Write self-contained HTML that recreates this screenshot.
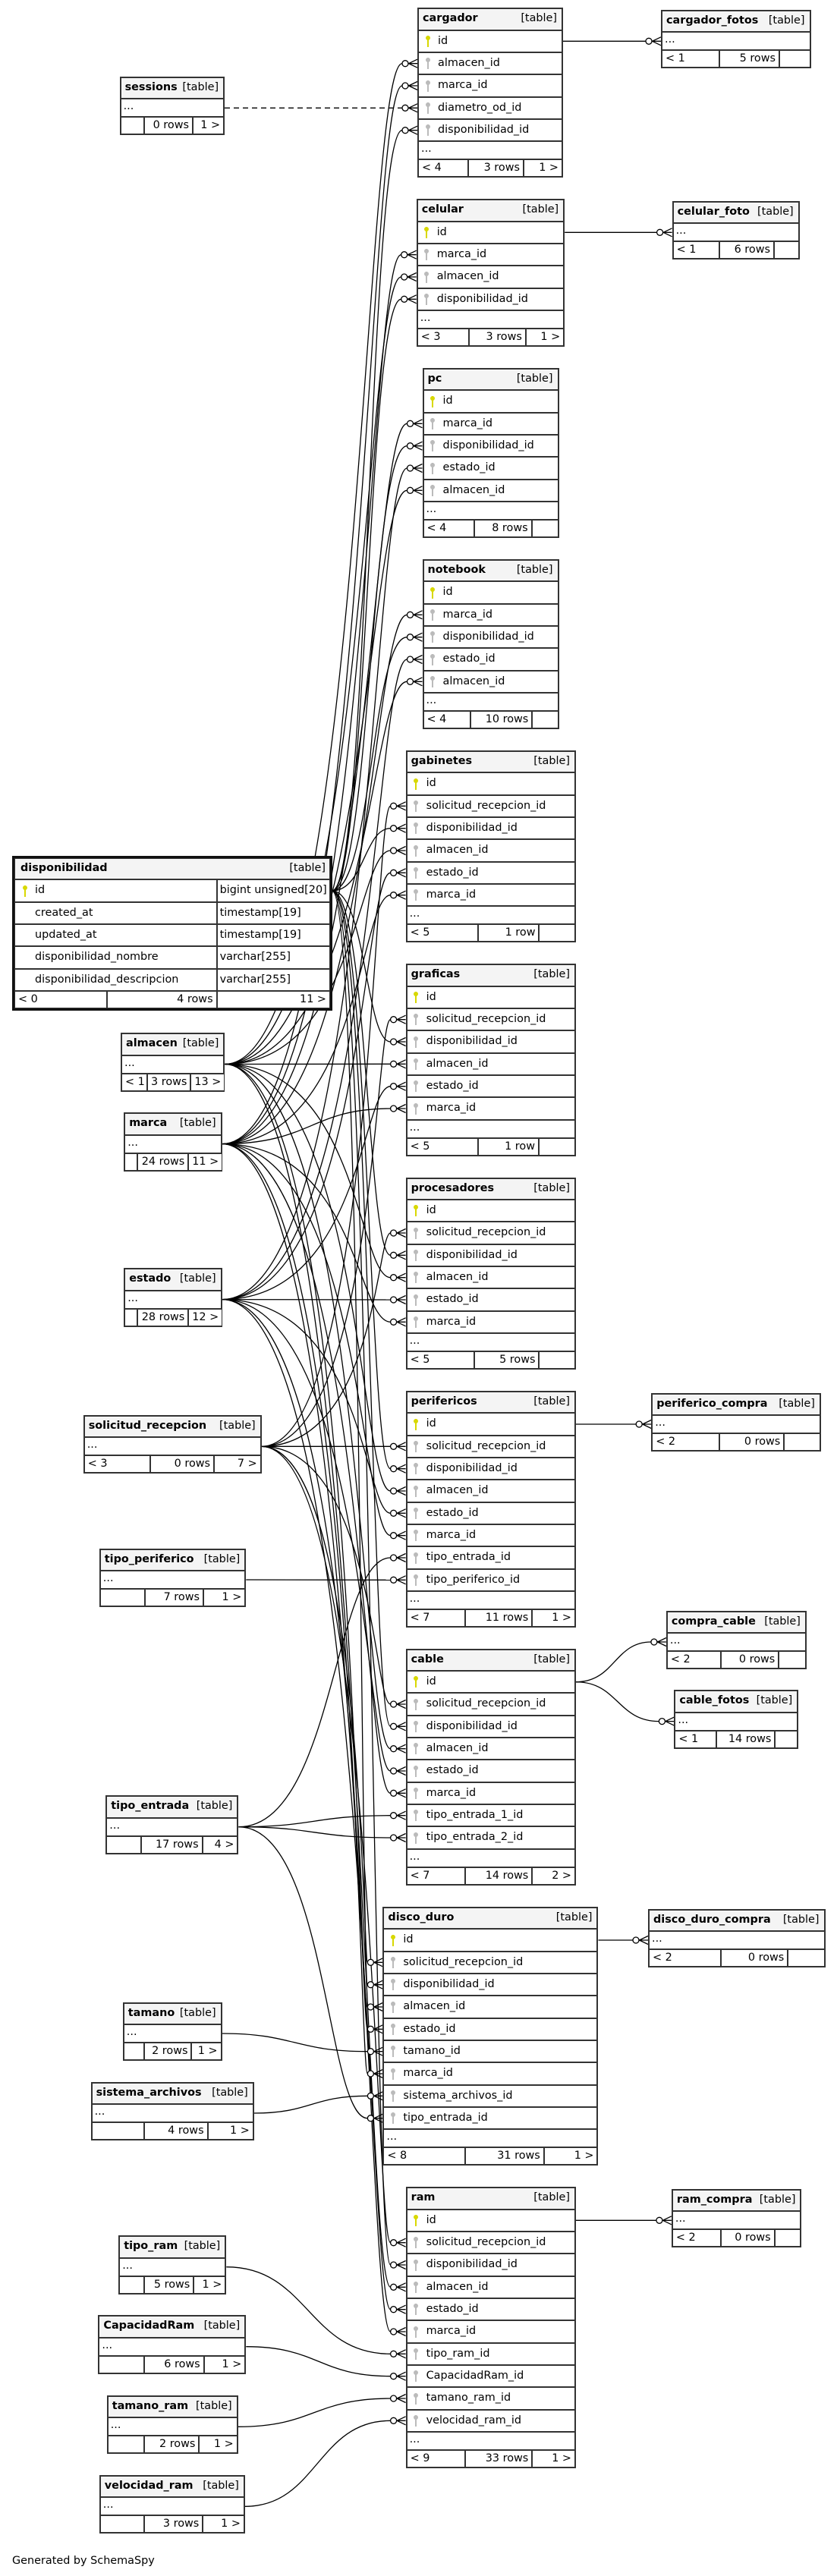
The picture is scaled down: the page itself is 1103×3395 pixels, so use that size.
<!DOCTYPE html>
<html><head><meta charset="utf-8">
<style>
body{margin:0;width:1103px;height:3395px;position:relative;background:#fff;overflow:hidden;font-family:"DejaVu Sans","Liberation Sans",sans-serif}
.t{position:absolute;box-sizing:border-box;border:1px solid #333;background:#fff;font-size:14.4px;color:#000;z-index:2;white-space:nowrap}
.t>div{box-sizing:border-box;border:1px solid #333;position:relative}
.t>.h{height:28.33px;background:#f4f4f4;display:flex;justify-content:space-between;align-items:center;padding:0 6px 2px 5px}
.h b{font-weight:bold}
.t>.r{height:29.33px;line-height:27px;padding-left:25px}
.t>.d{height:24px;line-height:19px;padding-left:3px}
.t>.f{height:23px;border:0;display:flex}
.f span{box-sizing:border-box;border:1px solid #333;height:23px;line-height:21px;padding:0 4px;flex:none;display:block}
.f span.e{flex:1}
.f .rt{text-align:right}
.k{position:absolute;left:10.7px;top:6.3px;width:2px;height:15px;background:#bbb;display:block}
.k::before{content:"";position:absolute;left:-2px;top:0;width:6px;height:6px;border-radius:50%;background:inherit}
.k.y{background:#d8d800}
.t>.r2{height:29.33px;border:0;display:flex}
.r2 span{box-sizing:border-box;border:1px solid #333;height:29.33px;line-height:27px;display:block;position:relative;flex:none}
.r2 .c1{width:266.6px;padding-left:26px}
.r2 .c2{flex:1;padding-left:3px}
.r2 .k{left:12px}
svg.e{position:absolute;left:0;top:0;z-index:1}
.gen{position:absolute;left:16px;top:3365px;font-size:14.4px;line-height:20px;color:#000}
</style></head><body>

<svg class="e" width="1103" height="3395" viewBox="0 0 1103 3395">
<defs>
<g id="m" fill="#fff" stroke="#000" stroke-width="1.3"><circle cx="-16" cy="0" r="4"/><path d="M-11.5,0L0,-5.5M-11.5,0L0,0M-11.5,0L0,5.5" fill="none"/></g>
</defs>
<g fill="none" stroke="#000" stroke-width="1.3">
<path d="M437.5,1174C486,1174 486,171.7 530,171.7"/>
<path d="M437.5,1174C484,1174 484,394.3 528.7,394.3"/>
<path d="M437.5,1174C488,1174 488,587.7 536.5,587.7"/>
<path d="M437.5,1174C490,1174 490,839.7 536.5,839.7"/>
<path d="M437.5,1174C480,1174 480,1091.7 514.6,1091.7"/>
<path d="M437.5,1174C482,1174 482,1373 514.6,1373"/>
<path d="M437.5,1174C484,1174 484,1654.3 514.6,1654.3"/>
<path d="M437.5,1174C486,1174 486,1935.7 514.6,1935.7"/>
<path d="M437.5,1174C488,1174 488,2275.3 514.6,2275.3"/>
<path d="M437.5,1174C476,1174 476,2615.7 484.4,2615.7"/>
<path d="M437.5,1174C490,1174 490,2985 514.6,2985"/>

<path d="M296.4,1402.5C478,1402.5 478,83.7 530,83.7"/>
<path d="M296.4,1402.5C480,1402.5 480,365 528.7,365"/>
<path d="M296.4,1402.5C484,1402.5 484,646.3 536.5,646.3"/>
<path d="M296.4,1402.5C486,1402.5 486,898.3 536.5,898.3"/>
<path d="M296.4,1402.5C470,1402.5 470,1121 514.6,1121"/>
<path d="M296.4,1402.5L514.6,1402.3"/>
<path d="M296.4,1402.5C472,1402.5 472,1683.7 514.6,1683.7"/>
<path d="M296.4,1402.5C474,1402.5 474,1965 514.6,1965"/>
<path d="M296.4,1402.5C476,1402.5 476,2304.7 514.6,2304.7"/>
<path d="M296.4,1402.5C470,1402.5 470,2645 484.4,2645"/>
<path d="M296.4,1402.5C478,1402.5 478,3014.3 514.6,3014.3"/>

<path d="M292.6,1507.6C482,1507.6 482,113 530,113"/>
<path d="M292.6,1507.6C484,1507.6 484,335.7 528.7,335.7"/>
<path d="M292.6,1507.6C486,1507.6 486,558.3 536.5,558.3"/>
<path d="M292.6,1507.6C488,1507.6 488,810.3 536.5,810.3"/>
<path d="M292.6,1507.6C474,1507.6 474,1179.7 514.6,1179.7"/>
<path d="M292.6,1507.6C410,1507.6 410,1461 514.6,1461"/>
<path d="M292.6,1507.6C470,1507.6 470,1742.3 514.6,1742.3"/>
<path d="M292.6,1507.6C476,1507.6 476,2023.7 514.6,2023.7"/>
<path d="M292.6,1507.6C478,1507.6 478,2363.3 514.6,2363.3"/>
<path d="M292.6,1507.6C472,1507.6 472,2733 484.4,2733"/>
<path d="M292.6,1507.6C480,1507.6 480,3073 514.6,3073"/>

<path d="M292.6,1712.6C490,1712.6 490,617 536.5,617"/>
<path d="M292.6,1712.6C492,1712.6 492,869 536.5,869"/>
<path d="M292.6,1712.6C478,1712.6 478,1150.3 514.6,1150.3"/>
<path d="M292.6,1712.6C476,1712.6 476,1431.7 514.6,1431.7"/>
<path d="M292.6,1712.6L514.6,1713"/>
<path d="M292.6,1712.6C480,1712.6 480,1994.3 514.6,1994.3"/>
<path d="M292.6,1712.6C482,1712.6 482,2334 514.6,2334"/>
<path d="M292.6,1712.6C474,1712.6 474,2674.3 484.4,2674.3"/>
<path d="M292.6,1712.6C484,1712.6 484,3043.7 514.6,3043.7"/>

<path d="M344.7,1906.3C492,1906.3 492,1062.3 514.6,1062.3"/>
<path d="M344.7,1906.3C494,1906.3 494,1343.7 514.6,1343.7"/>
<path d="M344.7,1906.3C496,1906.3 496,1625 514.6,1625"/>
<path d="M344.7,1906.3L514.6,1906.3"/>
<path d="M344.7,1906.3C492,1906.3 492,2246 514.6,2246"/>
<path d="M344.7,1906.3C478,1906.3 478,2586.3 484.4,2586.3"/>
<path d="M344.7,1906.3C494,1906.3 494,2955.7 514.6,2955.7"/>

<path d="M324.3,2082L514.6,2082.3"/>
<path d="M314.4,2407.7C440,2407.7 440,2053 514.6,2053"/>
<path d="M314.4,2407.7C414,2407.7 414,2392.7 514.6,2392.7"/>
<path d="M314.4,2407.7C414,2407.7 414,2422 514.6,2422"/>
<path d="M314.4,2407.7C430,2407.7 430,2791.7 484.4,2791.7"/>
<path d="M292.6,2680C388,2680 388,2703.7 484.4,2703.7"/>
<path d="M334.8,2785C410,2785 410,2762.3 484.4,2762.3"/>
<path d="M298.3,2987.7C406,2987.7 406,3102.3 514.6,3102.3"/>
<path d="M324.3,3092.7C420,3092.7 420,3131.7 514.6,3131.7"/>
<path d="M313.7,3198.3C414,3198.3 414,3161 514.6,3161"/>
<path d="M322.9,3303.3C418,3303.3 418,3190.3 514.6,3190.3"/>
<path d="M296,142.3L530,142.3" stroke-dasharray="7,5"/>

<path d="M742,54.3L851,54.3"/>
<path d="M744.2,306.3L865.6,306.3"/>
<path d="M759,1877L838.2,1877"/>
<path d="M759,2216.7C810,2216.7 810,2164 857.9,2164"/>
<path d="M759,2216.7C814,2216.7 814,2268.6 868.4,2268.6"/>
<path d="M788.5,2557L834,2557"/>
<path d="M759,2926.3L864.9,2926.3"/>
</g>
<g>
<use href="#m" x="550" y="83.7"/><use href="#m" x="550" y="113"/><use href="#m" x="550" y="142.3"/><use href="#m" x="550" y="171.7"/>
<use href="#m" x="548.7" y="335.7"/><use href="#m" x="548.7" y="365"/><use href="#m" x="548.7" y="394.3"/>
<use href="#m" x="556.5" y="558.3"/><use href="#m" x="556.5" y="587.7"/><use href="#m" x="556.5" y="617"/><use href="#m" x="556.5" y="646.3"/>
<use href="#m" x="556.5" y="810.3"/><use href="#m" x="556.5" y="839.7"/><use href="#m" x="556.5" y="869"/><use href="#m" x="556.5" y="898.3"/>
<use href="#m" x="534.6" y="1062.3"/><use href="#m" x="534.6" y="1091.7"/><use href="#m" x="534.6" y="1121"/><use href="#m" x="534.6" y="1150.3"/><use href="#m" x="534.6" y="1179.7"/>
<use href="#m" x="534.6" y="1343.7"/><use href="#m" x="534.6" y="1373"/><use href="#m" x="534.6" y="1402.3"/><use href="#m" x="534.6" y="1431.7"/><use href="#m" x="534.6" y="1461"/>
<use href="#m" x="534.6" y="1625"/><use href="#m" x="534.6" y="1654.3"/><use href="#m" x="534.6" y="1683.7"/><use href="#m" x="534.6" y="1713"/><use href="#m" x="534.6" y="1742.3"/>
<use href="#m" x="534.6" y="1906.3"/><use href="#m" x="534.6" y="1935.7"/><use href="#m" x="534.6" y="1965"/><use href="#m" x="534.6" y="1994.3"/><use href="#m" x="534.6" y="2023.7"/><use href="#m" x="534.6" y="2053"/><use href="#m" x="534.6" y="2082.3"/>
<use href="#m" x="534.6" y="2246"/><use href="#m" x="534.6" y="2275.3"/><use href="#m" x="534.6" y="2304.7"/><use href="#m" x="534.6" y="2334"/><use href="#m" x="534.6" y="2363.3"/><use href="#m" x="534.6" y="2392.7"/><use href="#m" x="534.6" y="2422"/>
<use href="#m" x="504.4" y="2586.3"/><use href="#m" x="504.4" y="2615.7"/><use href="#m" x="504.4" y="2645"/><use href="#m" x="504.4" y="2674.3"/><use href="#m" x="504.4" y="2703.7"/><use href="#m" x="504.4" y="2733"/><use href="#m" x="504.4" y="2762.3"/><use href="#m" x="504.4" y="2791.7"/>
<use href="#m" x="534.6" y="2955.7"/><use href="#m" x="534.6" y="2985"/><use href="#m" x="534.6" y="3014.3"/><use href="#m" x="534.6" y="3043.7"/><use href="#m" x="534.6" y="3073"/><use href="#m" x="534.6" y="3102.3"/><use href="#m" x="534.6" y="3131.7"/><use href="#m" x="534.6" y="3161"/><use href="#m" x="534.6" y="3190.3"/>
<use href="#m" x="871" y="54.3"/><use href="#m" x="885.6" y="306.3"/><use href="#m" x="858.2" y="1877"/><use href="#m" x="877.9" y="2164"/><use href="#m" x="888.4" y="2268.6"/><use href="#m" x="854" y="2557"/><use href="#m" x="884.9" y="2926.3"/>
</g>
</svg>

<!-- cargador -->
<div class="t" style="left:550px;top:10.3px;width:192px">
<div class="h"><b>cargador</b><span>[table]</span></div>
<div class="r"><i class="k y"></i>id</div>
<div class="r"><i class="k"></i>almacen_id</div>
<div class="r"><i class="k"></i>marca_id</div>
<div class="r"><i class="k"></i>diametro_od_id</div>
<div class="r"><i class="k"></i>disponibilidad_id</div>
<div class="d">...</div>
<div class="f"><span style="width:65.7px">&lt; 4</span><span class="rt" style="width:73.3px">3 rows</span><span class="rt e">1 &gt;</span></div>
</div>

<div class="t" style="left:871px;top:12.7px;width:197.5px">
<div class="h"><b>cargador_fotos</b><span>[table]</span></div>
<div class="d">...</div>
<div class="f"><span style="width:76px">&lt; 1</span><span class="rt" style="width:79px">5 rows</span><span class="rt e"></span></div>
</div>

<div class="t" style="left:157.6px;top:101px;width:138.5px">
<div class="h"><b>sessions</b><span>[table]</span></div>
<div class="d">...</div>
<div class="f"><span style="width:31.4px"></span><span class="rt" style="width:64px">0 rows</span><span class="rt e">1 &gt;</span></div>
</div>

<div class="t" style="left:548.7px;top:262.3px;width:195.5px">
<div class="h"><b>celular</b><span>[table]</span></div>
<div class="r"><i class="k y"></i>id</div>
<div class="r"><i class="k"></i>marca_id</div>
<div class="r"><i class="k"></i>almacen_id</div>
<div class="r"><i class="k"></i>disponibilidad_id</div>
<div class="d">...</div>
<div class="f"><span style="width:67.9px">&lt; 3</span><span class="rt" style="width:75.3px">3 rows</span><span class="rt e">1 &gt;</span></div>
</div>

<div class="t" style="left:885.6px;top:265px;width:168.1px">
<div class="h"><b>celular_foto</b><span>[table]</span></div>
<div class="d">...</div>
<div class="f"><span style="width:61.4px">&lt; 1</span><span class="rt" style="width:72px">6 rows</span><span class="rt e"></span></div>
</div>

<div class="t" style="left:556.5px;top:485px;width:180px">
<div class="h"><b>pc</b><span>[table]</span></div>
<div class="r"><i class="k y"></i>id</div>
<div class="r"><i class="k"></i>marca_id</div>
<div class="r"><i class="k"></i>disponibilidad_id</div>
<div class="r"><i class="k"></i>estado_id</div>
<div class="r"><i class="k"></i>almacen_id</div>
<div class="d">...</div>
<div class="f"><span style="width:67.5px">&lt; 4</span><span class="rt" style="width:75.6px">8 rows</span><span class="rt e"></span></div>
</div>

<div class="t" style="left:556.5px;top:737px;width:180px">
<div class="h"><b>notebook</b><span>[table]</span></div>
<div class="r"><i class="k y"></i>id</div>
<div class="r"><i class="k"></i>marca_id</div>
<div class="r"><i class="k"></i>disponibilidad_id</div>
<div class="r"><i class="k"></i>estado_id</div>
<div class="r"><i class="k"></i>almacen_id</div>
<div class="d">...</div>
<div class="f"><span style="width:62.9px">&lt; 4</span><span class="rt" style="width:80.9px">10 rows</span><span class="rt e"></span></div>
</div>

<div class="t" style="left:534.6px;top:989px;width:224.4px">
<div class="h"><b>gabinetes</b><span>[table]</span></div>
<div class="r"><i class="k y"></i>id</div>
<div class="r"><i class="k"></i>solicitud_recepcion_id</div>
<div class="r"><i class="k"></i>disponibilidad_id</div>
<div class="r"><i class="k"></i>almacen_id</div>
<div class="r"><i class="k"></i>estado_id</div>
<div class="r"><i class="k"></i>marca_id</div>
<div class="d">...</div>
<div class="f"><span style="width:94px">&lt; 5</span><span class="rt" style="width:80.9px">1 row</span><span class="rt e"></span></div>
</div>

<!-- disponibilidad -->
<div class="t" style="left:16px;top:1128px;width:422px;border:3px solid #111">
<div class="h" style="padding:0 5px 2px 7px"><b>disponibilidad</b><span>[table]</span></div>
<div class="r2"><span class="c1"><i class="k y"></i>id</span><span class="c2">bigint unsigned[20]</span></div>
<div class="r2"><span class="c1">created_at</span><span class="c2">timestamp[19]</span></div>
<div class="r2"><span class="c1">updated_at</span><span class="c2">timestamp[19]</span></div>
<div class="r2"><span class="c1">disponibilidad_nombre</span><span class="c2">varchar[255]</span></div>
<div class="r2"><span class="c1">disponibilidad_descripcion</span><span class="c2">varchar[255]</span></div>
<div class="f"><span style="width:121.7px">&lt; 0</span><span class="rt" style="width:144.9px">4 rows</span><span class="rt e">11 &gt;</span></div>
</div>

<div class="t" style="left:159px;top:1361.3px;width:137.4px">
<div class="h"><b>almacen</b><span>[table]</span></div>
<div class="d">...</div>
<div class="f"><span style="width:33.6px">&lt; 1</span><span class="rt" style="width:57.8px">3 rows</span><span class="rt e">13 &gt;</span></div>
</div>

<div class="t" style="left:534.6px;top:1270.3px;width:224.4px">
<div class="h"><b>graficas</b><span>[table]</span></div>
<div class="r"><i class="k y"></i>id</div>
<div class="r"><i class="k"></i>solicitud_recepcion_id</div>
<div class="r"><i class="k"></i>disponibilidad_id</div>
<div class="r"><i class="k"></i>almacen_id</div>
<div class="r"><i class="k"></i>estado_id</div>
<div class="r"><i class="k"></i>marca_id</div>
<div class="d">...</div>
<div class="f"><span style="width:94.4px">&lt; 5</span><span class="rt" style="width:80px">1 row</span><span class="rt e"></span></div>
</div>

<div class="t" style="left:163.2px;top:1466.3px;width:129.4px">
<div class="h"><b>marca</b><span>[table]</span></div>
<div class="d">...</div>
<div class="f"><span style="width:17.3px"></span><span class="rt" style="width:66.8px">24 rows</span><span class="rt e">11 &gt;</span></div>
</div>

<div class="t" style="left:534.6px;top:1551.7px;width:224.4px">
<div class="h"><b>procesadores</b><span>[table]</span></div>
<div class="r"><i class="k y"></i>id</div>
<div class="r"><i class="k"></i>solicitud_recepcion_id</div>
<div class="r"><i class="k"></i>disponibilidad_id</div>
<div class="r"><i class="k"></i>almacen_id</div>
<div class="r"><i class="k"></i>estado_id</div>
<div class="r"><i class="k"></i>marca_id</div>
<div class="d">...</div>
<div class="f"><span style="width:89.8px">&lt; 5</span><span class="rt" style="width:85.1px">5 rows</span><span class="rt e"></span></div>
</div>

<div class="t" style="left:163.2px;top:1671.3px;width:129.4px">
<div class="h"><b>estado</b><span>[table]</span></div>
<div class="d">...</div>
<div class="f"><span style="width:17.3px"></span><span class="rt" style="width:66.8px">28 rows</span><span class="rt e">12 &gt;</span></div>
</div>

<div class="t" style="left:534.6px;top:1833px;width:224.4px">
<div class="h"><b>perifericos</b><span>[table]</span></div>
<div class="r"><i class="k y"></i>id</div>
<div class="r"><i class="k"></i>solicitud_recepcion_id</div>
<div class="r"><i class="k"></i>disponibilidad_id</div>
<div class="r"><i class="k"></i>almacen_id</div>
<div class="r"><i class="k"></i>estado_id</div>
<div class="r"><i class="k"></i>marca_id</div>
<div class="r"><i class="k"></i>tipo_entrada_id</div>
<div class="r"><i class="k"></i>tipo_periferico_id</div>
<div class="d">...</div>
<div class="f"><span style="width:77.1px">&lt; 7</span><span class="rt" style="width:88.6px">11 rows</span><span class="rt e">1 &gt;</span></div>
</div>

<div class="t" style="left:858.2px;top:1835.7px;width:223.7px">
<div class="h"><b>periferico_compra</b><span>[table]</span></div>
<div class="d">...</div>
<div class="f"><span style="width:89px">&lt; 2</span><span class="rt" style="width:85.1px">0 rows</span><span class="rt e"></span></div>
</div>

<div class="t" style="left:109.7px;top:1865px;width:235px">
<div class="h"><b>solicitud_recepcion</b><span>[table]</span></div>
<div class="d">...</div>
<div class="f"><span style="width:87.7px">&lt; 3</span><span class="rt" style="width:83.7px">0 rows</span><span class="rt e">7 &gt;</span></div>
</div>

<div class="t" style="left:130.8px;top:2040.7px;width:193.5px">
<div class="h"><b>tipo_periferico</b><span>[table]</span></div>
<div class="d">...</div>
<div class="f"><span style="width:59.5px"></span><span class="rt" style="width:76.7px">7 rows</span><span class="rt e">1 &gt;</span></div>
</div>

<div class="t" style="left:877.9px;top:2122.7px;width:185px">
<div class="h"><b>compra_cable</b><span>[table]</span></div>
<div class="d">...</div>
<div class="f"><span style="width:70.7px">&lt; 2</span><span class="rt" style="width:76.7px">0 rows</span><span class="rt e"></span></div>
</div>

<div class="t" style="left:534.6px;top:2172.7px;width:224.4px">
<div class="h"><b>cable</b><span>[table]</span></div>
<div class="r"><i class="k y"></i>id</div>
<div class="r"><i class="k"></i>solicitud_recepcion_id</div>
<div class="r"><i class="k"></i>disponibilidad_id</div>
<div class="r"><i class="k"></i>almacen_id</div>
<div class="r"><i class="k"></i>estado_id</div>
<div class="r"><i class="k"></i>marca_id</div>
<div class="r"><i class="k"></i>tipo_entrada_1_id</div>
<div class="r"><i class="k"></i>tipo_entrada_2_id</div>
<div class="d">...</div>
<div class="f"><span style="width:77.1px">&lt; 7</span><span class="rt" style="width:88.6px">14 rows</span><span class="rt e">2 &gt;</span></div>
</div>

<div class="t" style="left:888.4px;top:2227.3px;width:163.9px">
<div class="h"><b>cable_fotos</b><span>[table]</span></div>
<div class="d">...</div>
<div class="f"><span style="width:54.6px">&lt; 1</span><span class="rt" style="width:77.4px">14 rows</span><span class="rt e"></span></div>
</div>

<div class="t" style="left:139.3px;top:2366.3px;width:175.1px">
<div class="h"><b>tipo_entrada</b><span>[table]</span></div>
<div class="d">...</div>
<div class="f"><span style="width:45.4px"></span><span class="rt" style="width:80.9px">17 rows</span><span class="rt e">4 &gt;</span></div>
</div>

<div class="t" style="left:504.4px;top:2513px;width:284.1px">
<div class="h"><b>disco_duro</b><span>[table]</span></div>
<div class="r"><i class="k y"></i>id</div>
<div class="r"><i class="k"></i>solicitud_recepcion_id</div>
<div class="r"><i class="k"></i>disponibilidad_id</div>
<div class="r"><i class="k"></i>almacen_id</div>
<div class="r"><i class="k"></i>estado_id</div>
<div class="r"><i class="k"></i>tamano_id</div>
<div class="r"><i class="k"></i>marca_id</div>
<div class="r"><i class="k"></i>sistema_archivos_id</div>
<div class="r"><i class="k"></i>tipo_entrada_id</div>
<div class="d">...</div>
<div class="f"><span style="width:107.3px">&lt; 8</span><span class="rt" style="width:104.1px">31 rows</span><span class="rt e">1 &gt;</span></div>
</div>

<div class="t" style="left:854px;top:2515.7px;width:233.5px">
<div class="h"><b>disco_duro_compra</b><span>[table]</span></div>
<div class="d">...</div>
<div class="f"><span style="width:94.6px">&lt; 2</span><span class="rt" style="width:88.7px">0 rows</span><span class="rt e"></span></div>
</div>

<div class="t" style="left:161.8px;top:2638.7px;width:130.8px">
<div class="h"><b>tamano</b><span>[table]</span></div>
<div class="d">...</div>
<div class="f"><span style="width:27.2px"></span><span class="rt" style="width:62.5px">2 rows</span><span class="rt e">1 &gt;</span></div>
</div>

<div class="t" style="left:119.6px;top:2743.7px;width:215.2px">
<div class="h"><b>sistema_archivos</b><span>[table]</span></div>
<div class="d">...</div>
<div class="f"><span style="width:69.4px"></span><span class="rt" style="width:83.6px">4 rows</span><span class="rt e">1 &gt;</span></div>
</div>

<div class="t" style="left:534.6px;top:2882.3px;width:224.4px">
<div class="h"><b>ram</b><span>[table]</span></div>
<div class="r"><i class="k y"></i>id</div>
<div class="r"><i class="k"></i>solicitud_recepcion_id</div>
<div class="r"><i class="k"></i>disponibilidad_id</div>
<div class="r"><i class="k"></i>almacen_id</div>
<div class="r"><i class="k"></i>estado_id</div>
<div class="r"><i class="k"></i>marca_id</div>
<div class="r"><i class="k"></i>tipo_ram_id</div>
<div class="r"><i class="k"></i>CapacidadRam_id</div>
<div class="r"><i class="k"></i>tamano_ram_id</div>
<div class="r"><i class="k"></i>velocidad_ram_id</div>
<div class="d">...</div>
<div class="f"><span style="width:77.1px">&lt; 9</span><span class="rt" style="width:88.6px">33 rows</span><span class="rt e">1 &gt;</span></div>
</div>

<div class="t" style="left:884.9px;top:2884.7px;width:171.6px">
<div class="h"><b>ram_compra</b><span>[table]</span></div>
<div class="d">...</div>
<div class="f"><span style="width:63.7px">&lt; 2</span><span class="rt" style="width:71.1px">0 rows</span><span class="rt e"></span></div>
</div>

<div class="t" style="left:156.2px;top:2946.3px;width:142.1px">
<div class="h"><b>tipo_ram</b><span>[table]</span></div>
<div class="d">...</div>
<div class="f"><span style="width:32.8px"></span><span class="rt" style="width:65.3px">5 rows</span><span class="rt e">1 &gt;</span></div>
</div>

<div class="t" style="left:129.4px;top:3051.3px;width:194.9px">
<div class="h"><b>CapacidadRam</b><span>[table]</span></div>
<div class="d">...</div>
<div class="f"><span style="width:59.6px"></span><span class="rt" style="width:78.7px">6 rows</span><span class="rt e">1 &gt;</span></div>
</div>

<div class="t" style="left:140.7px;top:3157px;width:173px">
<div class="h"><b>tamano_ram</b><span>[table]</span></div>
<div class="d">...</div>
<div class="f"><span style="width:48.3px"></span><span class="rt" style="width:72.4px">2 rows</span><span class="rt e">1 &gt;</span></div>
</div>

<div class="t" style="left:130.8px;top:3262px;width:192.1px">
<div class="h"><b>velocidad_ram</b><span>[table]</span></div>
<div class="d">...</div>
<div class="f"><span style="width:58.2px"></span><span class="rt" style="width:77.3px">3 rows</span><span class="rt e">1 &gt;</span></div>
</div>

<div class="gen">Generated by SchemaSpy</div>
</body></html>
